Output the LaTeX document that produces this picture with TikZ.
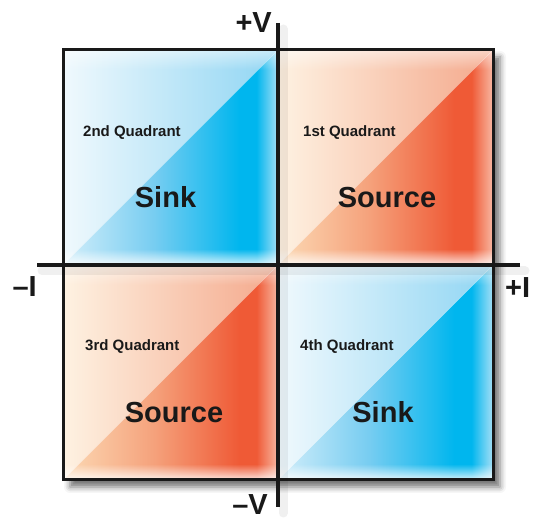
\documentclass[tikz,border=0pt]{standalone}
\usepackage{fontspec}
\setmainfont{Liberation Sans}
\usetikzlibrary{shadows.blur,fadings}

\definecolor{sinkblue}{HTML}{00B6EE}
\definecolor{sinklight}{HTML}{8FD5F3}
\definecolor{sinkpale}{HTML}{F0F9FD}
\definecolor{sinkmid}{HTML}{D2EEFA}
\definecolor{sinkhalf}{HTML}{78CDF1}
\definecolor{sinkedge}{HTML}{A6DFF6}
\definecolor{srcred}{HTML}{EF5A36}
\definecolor{srclight}{HTML}{F4A88B}
\definecolor{srcpale}{HTML}{FEF2E2}
\definecolor{srcpeach}{HTML}{FCDAB5}
\definecolor{srchalf}{HTML}{F5A27C}
\definecolor{srcedge}{HTML}{F8B8A3}

\pgfdeclarehorizontalshading{sinkglow}{100bp}{color(0bp)=(sinkmid); color(25bp)=(sinkmid);
  color(46bp)=(sinkhalf); color(66bp)=(sinkblue); color(70bp)=(sinkblue); color(75bp)=(sinkedge); color(100bp)=(sinkedge)}
\pgfdeclarehorizontalshading{srcglow}{100bp}{color(0bp)=(srcpeach); color(25bp)=(srcpeach);
  color(46bp)=(srchalf); color(66bp)=(srcred); color(70bp)=(srcred); color(75bp)=(srcedge); color(100bp)=(srcedge)}

% one quadrant: lower left corner, pale, light, glow shading
\newcommand{\quadrantfill}[5]{%
  \shade[left color=#3, right color=#4] (#1,#2) rectangle ++(215,215);
  \begin{scope}
    \clip (#1,#2) -- ++(215,0) -- ++(0,215) -- cycle;
    \shade[shading=#5] (#1,#2) rectangle ++(215,215);
  \end{scope}
  \fill[white, path fading=north, opacity=0.85] (#1,#2) rectangle ++(215,16);
  \fill[white, path fading=south, opacity=0.5] (#1,{#2+195}) rectangle ++(215,20);
  \draw[white, opacity=0.45, line width=0.6pt] (#1,#2) -- ++(215,215);
}

\begin{document}
\begin{tikzpicture}[
  x=1pt, y=1pt,
  frame/.style={draw=black!90, line width=3pt},
  axis/.style={draw=black!90, line width=4.5pt},
  axisshadow/.style={draw=black, opacity=0.06, line width=9pt, line cap=round},
  axislabel/.style={inner sep=0pt, font=\fontsize{29}{29}\selectfont\bfseries, text=black!90},
  quadname/.style={inner sep=0pt, font=\fontsize{15}{15}\selectfont\bfseries, text=black!90},
  role/.style={inner sep=0pt, font=\fontsize{29}{29}\selectfont\bfseries, text=black!90}
]
  \useasboundingbox (0,0) rectangle (541,522);

  % shadowed frame and the four quadrants
  \fill[white, blur shadow={shadow xshift=7pt, shadow yshift=-7pt, shadow blur radius=6pt, shadow opacity=55}]
    (63,42) rectangle (493,472);
  \quadrantfill{63}{257}{sinkpale}{sinklight}{sinkglow}
  \quadrantfill{278}{257}{srcpale}{srclight}{srcglow}
  \quadrantfill{63}{42}{srcpale}{srclight}{srcglow}
  \quadrantfill{278}{42}{sinkpale}{sinklight}{sinkglow}
  \draw[frame] (63,42) rectangle (493,472);

  % axes
  \coordinate (vtop) at (278,499);
  \coordinate (vbot) at (278,15);
  \coordinate (ileft) at (37,257);
  \coordinate (iright) at (520,257);
  \draw[axisshadow, transform canvas={shift={(5pt,-6pt)}}] (vtop) -- (vbot);
  \draw[axisshadow, transform canvas={shift={(5pt,-6pt)}}] (ileft) -- (iright);
  \draw[axis] (vtop) -- (vbot);
  \draw[axis] (ileft) -- (iright);

  \node[axislabel, anchor=base east] (plusV) at (272,489) {+V};
  \node[axislabel, anchor=base east] (minusV) at (268,7) {–V};
  \node[axislabel, anchor=base east] (minusI) at (37,225) {–I};
  \node[axislabel, anchor=base west] (plusI) at (505,224) {+I};

  \node[quadname, anchor=base west] (q2) at (83,385) {2nd Quadrant};
  \node[quadname, anchor=base west] (q1) at (303,385) {1st Quadrant};
  \node[quadname, anchor=base west] (q3) at (85,171) {3rd Quadrant};
  \node[quadname, anchor=base west] (q4) at (300,171) {4th Quadrant};

  \node[role, anchor=base] (sinkA) at (165.5,314) {Sink};
  \node[role, anchor=base] (sourceA) at (387,314) {Source};
  \node[role, anchor=base] (sourceB) at (174,99) {Source};
  \node[role, anchor=base] (sinkB) at (383,99) {Sink};
\end{tikzpicture}
\end{document}
